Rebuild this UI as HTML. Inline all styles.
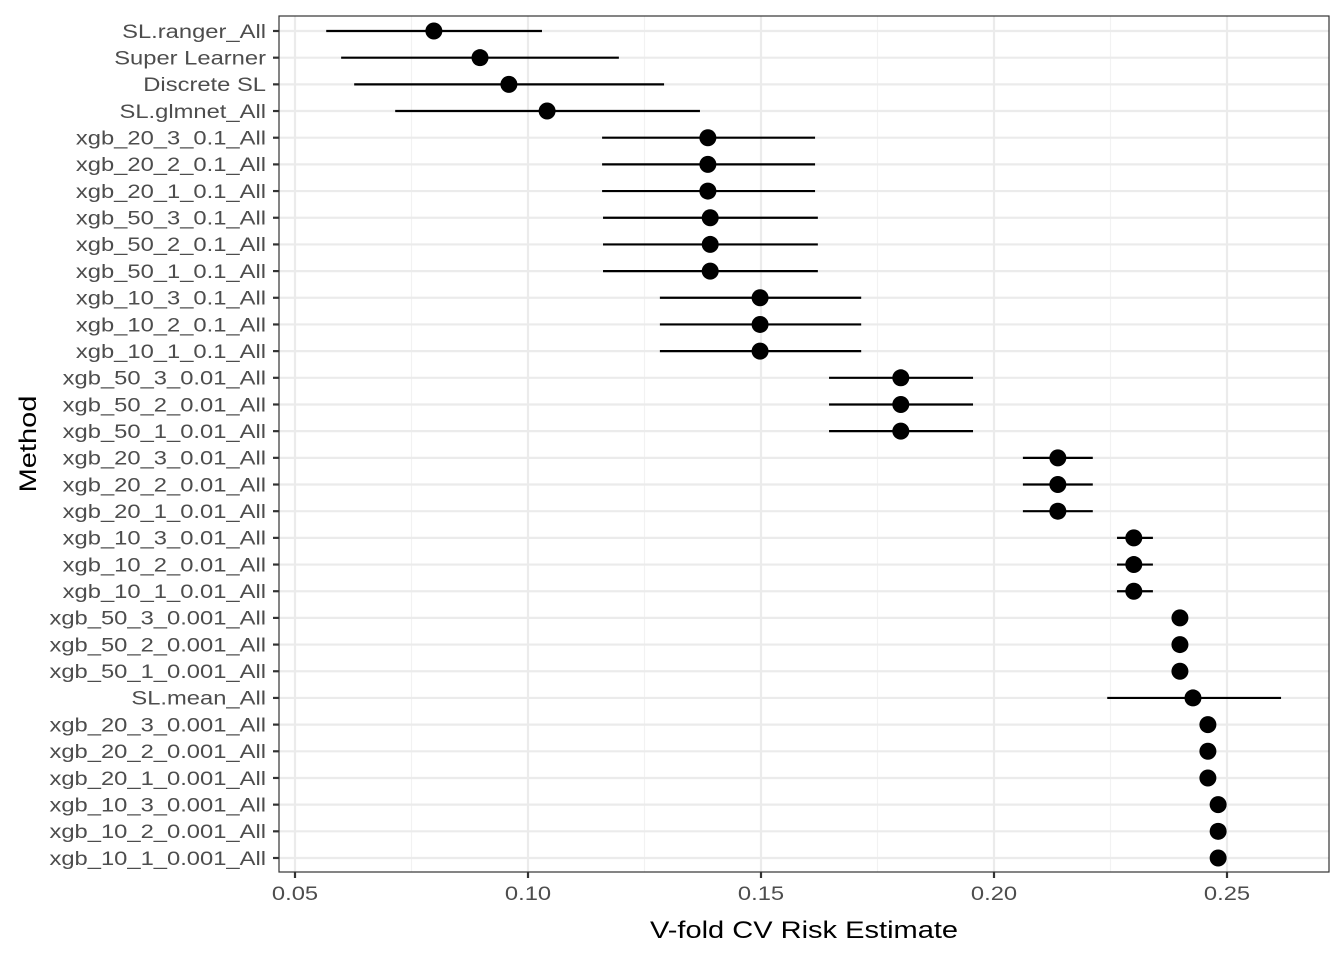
<!DOCTYPE html>
<html><head><meta charset="utf-8"><style>
body{margin:0;background:#fff;}
svg text{font-family:"Liberation Sans",sans-serif;}
</style></head><body>
<svg id="chart" width="1344" height="960" xmlns="http://www.w3.org/2000/svg"></svg>
<script>
const methods=["SL.ranger_All","Super Learner","Discrete SL","SL.glmnet_All","xgb_20_3_0.1_All","xgb_20_2_0.1_All","xgb_20_1_0.1_All","xgb_50_3_0.1_All","xgb_50_2_0.1_All","xgb_50_1_0.1_All","xgb_10_3_0.1_All","xgb_10_2_0.1_All","xgb_10_1_0.1_All","xgb_50_3_0.01_All","xgb_50_2_0.01_All","xgb_50_1_0.01_All","xgb_20_3_0.01_All","xgb_20_2_0.01_All","xgb_20_1_0.01_All","xgb_10_3_0.01_All","xgb_10_2_0.01_All","xgb_10_1_0.01_All","xgb_50_3_0.001_All","xgb_50_2_0.001_All","xgb_50_1_0.001_All","SL.mean_All","xgb_20_3_0.001_All","xgb_20_2_0.001_All","xgb_20_1_0.001_All","xgb_10_3_0.001_All","xgb_10_2_0.001_All","xgb_10_1_0.001_All"];
const risk=[0.0798,0.0897,0.0959,0.1041,0.1386,0.1386,0.1386,0.1391,0.1391,0.1391,0.1498,0.1498,0.1498,0.180,0.180,0.180,0.2137,0.2137,0.2137,0.230,0.230,0.230,0.2399,0.2399,0.2399,0.2427,0.2459,0.2459,0.2459,0.2481,0.2481,0.2481];
const ciLow=[0.0567,0.0599,0.0627,0.0715,0.1159,0.1159,0.1159,0.1161,0.1161,0.1161,0.1283,0.1283,0.1283,0.1646,0.1646,0.1646,0.2062,0.2062,0.2062,0.2264,0.2264,0.2264,0.2393,0.2393,0.2393,0.2243,0.2454,0.2454,0.2454,0.2477,0.2477,0.2477];
const ciHigh=[0.103,0.1195,0.1292,0.1369,0.1616,0.1616,0.1616,0.1622,0.1622,0.1622,0.1715,0.1715,0.1715,0.1955,0.1955,0.1955,0.2212,0.2212,0.2212,0.2341,0.2341,0.2341,0.2405,0.2405,0.2405,0.2616,0.2464,0.2464,0.2464,0.2485,0.2485,0.2485];
const xTicks=[0.05,0.10,0.15,0.20,0.25];
const xTickLabels=["0.05","0.10","0.15","0.20","0.25"];
const xMinor=[0.075,0.125,0.175,0.225];

const svg=document.getElementById('chart');
const NS="http://www.w3.org/2000/svg";
const L=279,R=1329,T=16,B=872;
const x=v=>295+(v-0.05)*4660;
const y0=31,y1=858;
const y=i=>y0+i*(y1-y0)/(methods.length-1);
function mk(tag,attrs,parent){const e=document.createElementNS(NS,tag);for(const k in attrs)e.setAttribute(k,attrs[k]);(parent||svg).appendChild(e);return e;}
const grid=mk('g',{});


xMinor.forEach(v=>{mk('line',{x1:x(v),x2:x(v),y1:T,y2:B,stroke:'#f2f2f2','stroke-width':1.1},grid);});
xTicks.forEach(v=>{mk('line',{x1:x(v),x2:x(v),y1:T,y2:B,stroke:'#ebebeb','stroke-width':2.2},grid);});
methods.forEach((m,i)=>{mk('line',{x1:L,x2:R,y1:y(i),y2:y(i),stroke:'#ebebeb','stroke-width':2.2},grid);});
const marks=mk('g',{});


methods.forEach((m,i)=>{
  const ln=mk('line',{x1:x(ciLow[i]),x2:x(ciHigh[i]),y1:y(i),y2:y(i),stroke:'#000','stroke-width':2.2},marks);
  
  
  const c=mk('circle',{cx:x(risk[i]),cy:y(i),r:8.5,fill:'#000'},marks);
  
  
});
const panel=mk('rect',{x:L,y:T,width:R-L,height:B-T,fill:'none',stroke:'#333','stroke-width':1.2});


const ya=mk('g',{});


methods.forEach((m,i)=>{
  mk('line',{x1:L-6,x2:L,y1:y(i),y2:y(i),stroke:'#333','stroke-width':2.2},ya);
  const t=mk('text',{x:0,y:0,'text-anchor':'end','font-size':19,fill:'#4d4d4d',transform:`translate(${L-13},${y(i)+6.8}) scale(1.25,1)`},ya);
  t.textContent=m;
  
  
});
const xa=mk('g',{});


xTicks.forEach((v,i)=>{
  mk('line',{x1:x(v),x2:x(v),y1:B,y2:B+6,stroke:'#333','stroke-width':2.2},xa);
  const t=mk('text',{x:0,y:0,'text-anchor':'middle','font-size':19,fill:'#4d4d4d',transform:`translate(${x(v)},${B+28}) scale(1.25,1)`},xa);
  t.textContent=xTickLabels[i];
  
  
});
const xt=mk('text',{x:0,y:0,'text-anchor':'middle','font-size':24,fill:'#000',transform:`translate(${(L+R)/2},938) scale(1.21,1)`});
xt.textContent='V-fold CV Risk Estimate';


const yt=mk('text',{x:0,y:0,'text-anchor':'middle','font-size':24,fill:'#000',transform:'translate(36,444) rotate(-90) scale(1.21,1)'});
yt.textContent='Method';


</script>
</body></html>
